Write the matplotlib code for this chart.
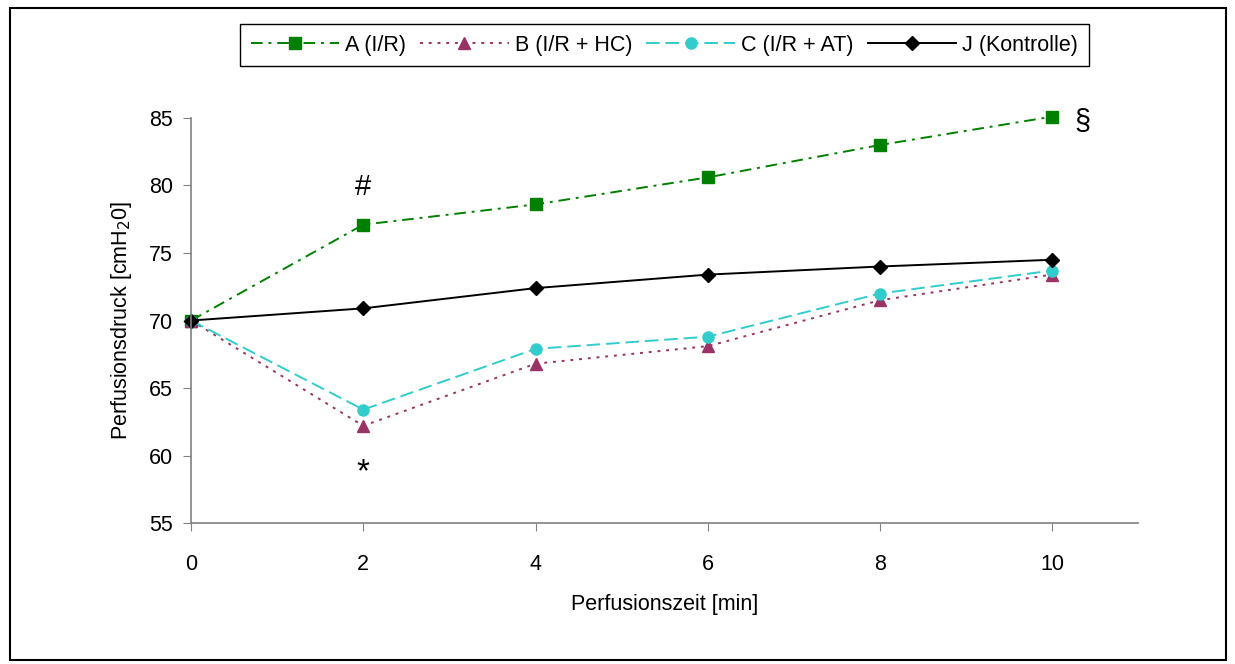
import matplotlib
matplotlib.use('Agg')
import matplotlib.pyplot as plt
from matplotlib.patches import Rectangle

plt.rcParams['font.family'] = ['Liberation Sans', 'DejaVu Sans']

# Daten
zeit = [0, 2, 4, 6, 8, 10]
gruppe_a = [70.0, 77.1, 78.6, 80.6, 83.0, 85.1]   # A (I/R)
gruppe_b = [70.0, 62.2, 66.8, 68.1, 71.5, 73.4]   # B (I/R + HC)
gruppe_c = [70.0, 63.4, 67.9, 68.8, 72.0, 73.7]   # C (I/R + AT)
gruppe_j = [70.0, 70.9, 72.4, 73.4, 74.0, 74.5]   # J (Kontrolle)
labels = ['A (I/R)', 'B (I/R + HC)', 'C (I/R + AT)', 'J (Kontrolle)']
x_ticks = [0, 2, 4, 6, 8, 10]
y_ticks = [55, 60, 65, 70, 75, 80, 85]

fig = plt.figure(figsize=(12.35, 6.64), dpi=100)
ax = fig.add_axes([0.1547, 0.2123, 0.767, 0.61])

ax.plot(zeit, gruppe_a, color='#008000', ls=(0, (6, 3, 1.5, 3)), lw=1.4,
        marker='s', ms=8, label=labels[0], clip_on=False)
ax.plot(zeit, gruppe_b, color='#993366', ls=(0, (1.5, 3)), lw=1.4,
        marker='^', ms=9, label=labels[1], clip_on=False)
ax.plot(zeit, gruppe_c, color='#33CCCC', ls=(0, (7, 3)), lw=1.4,
        marker='o', ms=8, label=labels[2], clip_on=False)
ax.plot(zeit, gruppe_j, color='black', ls='-', lw=1.4,
        marker='D', ms=7.5, label=labels[3], clip_on=False)

# Signifikanzzeichen
ax.text(2, 79.9, '#', fontsize=21, ha='center', va='center')
ax.text(2, 58.7, '*', fontsize=24, ha='center', va='center')
ax.text(10.35, 84.7, '§', fontsize=21, ha='center', va='center')

ax.set_xlim(0, 11)
ax.set_ylim(55, 85)
ax.set_xticks(x_ticks)
ax.set_yticks(y_ticks)
ax.tick_params(labelsize=15.5, direction='out', length=6, color='#808080')
ax.tick_params(axis='x', pad=16)
ax.tick_params(axis='y', pad=7)
for s in ['top', 'right']:
    ax.spines[s].set_visible(False)
for s in ['left', 'bottom']:
    ax.spines[s].set_color('#808080')
    ax.spines[s].set_linewidth(1.2)

ax.set_xlabel('Perfusionszeit [min]', fontsize=15.5, labelpad=14)
ax.set_ylabel('Perfusionsdruck [cmH$_2$0]', fontsize=15.5, labelpad=11)

fig.legend(loc='center', bbox_to_anchor=(0.538, 0.932), ncol=4, fontsize=15.5,
           frameon=True, fancybox=False, edgecolor='black', handlelength=4.1,
           columnspacing=0.65, handletextpad=0.3, borderpad=0.5, framealpha=1)

fig.patches.append(Rectangle((10 / 1235, 4 / 664), 1216 / 1235, 652 / 664,
                             transform=fig.transFigure, fill=False,
                             edgecolor='black', lw=1.5))

fig.savefig('out.png', dpi=100)
